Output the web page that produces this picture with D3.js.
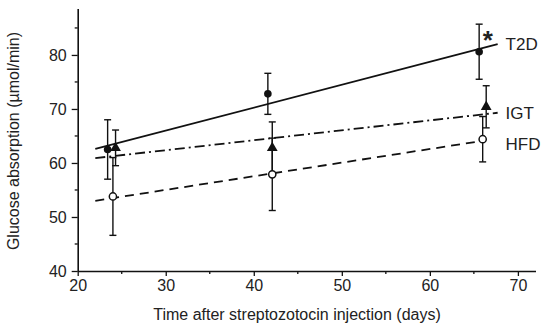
<!DOCTYPE html>
<html>
<head>
<meta charset="utf-8">
<script src="https://cdn.jsdelivr.net/npm/d3@7"></script>
<style>
  body { margin: 0; background: #fff; }
  text { font-family: "Liberation Sans", Arial, sans-serif; fill: #222; }
</style>
</head>
<body>
<script>
// group means +/- error
var t2dDays = [23.4, 41.6, 65.6];
var t2dMean = [62.5, 72.8, 80.6];
var t2dErr = [5.5, 3.8, 5.1];

var igtDays = [24.3, 42.1, 66.4];
var igtMean = [62.8, 62.8, 70.4];
var igtErr = [3.3, 4.8, 3.9];

var hfdDays = [24.0, 42.1, 66.0];
var hfdMean = [53.8, 57.9, 64.4];
var hfdErr = [7.2, 6.7, 4.2];

// regression lines (start / end)
var t2dFitX = [22, 67.7], t2dFitY = [62.6, 82.0];
var igtFitX = [22, 67.7], igtFitY = [60.9, 69.3];
var hfdFitX = [22, 66.0], hfdFitY = [53.0, 64.1];

var xTicks = [20, 30, 40, 50, 60, 70];
var xMinor = [25, 35, 45, 55, 65];
var yTicks = [40, 50, 60, 70, 80];
var yMinor = [45, 55, 65, 75, 85];

var width = 550, height = 329;

var x = d3.scaleLinear().domain([20, 72]).range([77.7, 535.5]);
var y = d3.scaleLinear().domain([40, 88.6]).range([271, 8.5]);

var svg = d3.select("body").append("svg")
    .attr("width", width)
    .attr("height", height);

// axes
var xAxis = svg.append("g")
    .attr("transform", "translate(0," + y(40) + ")")
    .call(d3.axisBottom(x).tickValues(xTicks).tickSize(5).tickPadding(4).tickSizeOuter(0));
xAxis.append("g").selectAll("line").data(xMinor).enter().append("line")
    .attr("x1", function (d) { return x(d); }).attr("x2", function (d) { return x(d); })
    .attr("y1", 0).attr("y2", 3).attr("stroke", "#111").attr("stroke-width", 1.3);

var yAxis = svg.append("g")
    .attr("transform", "translate(" + x(20) + ",0)")
    .call(d3.axisLeft(y).tickValues(yTicks).tickSize(6).tickPadding(5).tickSizeOuter(0));
yAxis.append("g").selectAll("line").data(yMinor).enter().append("line")
    .attr("y1", function (d) { return y(d); }).attr("y2", function (d) { return y(d); })
    .attr("x1", 0).attr("x2", -3).attr("stroke", "#111").attr("stroke-width", 1.3);

svg.selectAll(".domain").attr("stroke", "#111").attr("stroke-width", 1.6);
svg.selectAll(".tick line").attr("stroke", "#111").attr("stroke-width", 1.3);
svg.selectAll(".tick text").style("font-size", "16px").style("font-family", "'Liberation Sans', Arial, sans-serif").attr("fill", "#222");

svg.append("text")
    .attr("x", 297).attr("y", 320)
    .attr("text-anchor", "middle")
    .style("font-size", "16px")
    .text("Time after streptozotocin injection (days)");

svg.append("text")
    .attr("transform", "translate(19,141) rotate(-90)")
    .attr("text-anchor", "middle")
    .style("font-size", "16px")
    .text("Glucose absorption (\u00b5mol/min)");

// fit lines
var line = d3.line()
    .x(function (d) { return x(d[0]); })
    .y(function (d) { return y(d[1]); });

function fitLine(xs, ys, dash) {
    svg.append("path")
        .datum(d3.zip(xs, ys))
        .attr("d", line)
        .attr("fill", "none")
        .attr("stroke", "#111")
        .attr("stroke-width", 1.8)
        .attr("stroke-dasharray", dash);
}
fitLine(t2dFitX, t2dFitY, null);
fitLine(igtFitX, igtFitY, "10,4,2,4");
fitLine(hfdFitX, hfdFitY, "9,6");

// error bars
function errBars(xs, ms, es) {
    var g = svg.append("g").attr("stroke", "#111").attr("stroke-width", 1.4);
    var data = d3.zip(xs, ms, es);
    g.selectAll(".v").data(data).enter().append("line")
        .attr("x1", function (d) { return x(d[0]); }).attr("x2", function (d) { return x(d[0]); })
        .attr("y1", function (d) { return y(d[1] - d[2]); }).attr("y2", function (d) { return y(d[1] + d[2]); });
    [-1, 1].forEach(function (s) {
        g.selectAll(".c" + s).data(data).enter().append("line")
            .attr("x1", function (d) { return x(d[0]) - 3.5; }).attr("x2", function (d) { return x(d[0]) + 3.5; })
            .attr("y1", function (d) { return y(d[1] + s * d[2]); }).attr("y2", function (d) { return y(d[1] + s * d[2]); });
    });
}
errBars(t2dDays, t2dMean, t2dErr);
errBars(igtDays, igtMean, igtErr);
errBars(hfdDays, hfdMean, hfdErr);

// markers
svg.append("g").selectAll("circle").data(d3.zip(t2dDays, t2dMean)).enter().append("circle")
    .attr("cx", function (d) { return x(d[0]); }).attr("cy", function (d) { return y(d[1]); })
    .attr("r", 3.8).attr("fill", "#111");

svg.append("g").selectAll("path").data(d3.zip(igtDays, igtMean)).enter().append("path")
    .attr("d", d3.symbol().type(d3.symbolTriangle).size(50))
    .attr("transform", function (d) { return "translate(" + x(d[0]) + "," + y(d[1]) + ")"; })
    .attr("fill", "#111");

svg.append("g").selectAll("circle").data(d3.zip(hfdDays, hfdMean)).enter().append("circle")
    .attr("cx", function (d) { return x(d[0]); }).attr("cy", function (d) { return y(d[1]); })
    .attr("r", 3.6).attr("fill", "#fff").attr("stroke", "#111").attr("stroke-width", 1.5);

// labels
var labels = [["T2D", 82.0], ["IGT", 69.3], ["HFD", 63.6]];
svg.selectAll(".lab").data(labels).enter().append("text")
    .attr("x", x(68.6)).attr("y", function (d) { return y(d[1]) + 6; })
    .style("font-size", "17px")
    .text(function (d) { return d[0]; });

svg.append("text")
    .attr("x", x(66.0)).attr("y", y(84.0) + 16)
    .style("font-size", "26px")
    .style("font-weight", "bold")
    .text("*");
</script>
</body>
</html>
